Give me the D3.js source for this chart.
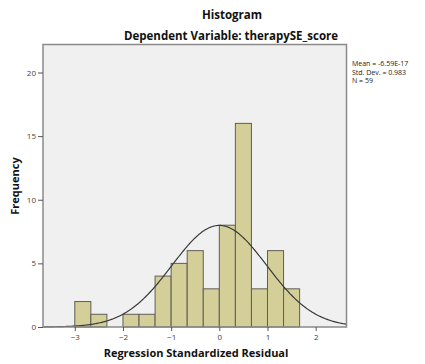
<!DOCTYPE html>
<html>
<head>
<meta charset="utf-8">
<script src="https://cdn.jsdelivr.net/npm/d3@7"></script>
<style>
  html, body { margin: 0; padding: 0; background: #fff; }
  svg { display: block; font-family: "Open Sans", "DejaVu Sans", sans-serif; }
</style>
</head>
<body>
<svg id="chart" width="425" height="364"></svg>
<script>
// Residual histogram: bins of width 1/3 starting at -3
const binStarts = [-3, -8/3, -7/3, -2, -5/3, -4/3, -1, -2/3, -1/3, 0, 1/3, 2/3, 1, 4/3];
const binWidth = 1/3;
const counts = [2, 1, 0, 1, 1, 4, 5, 6, 3, 8, 16, 3, 6, 3];
const xTicks = [-3, -2, -1, 0, 1, 2];
const yTicks = [0, 5, 10, 15, 20];
const stats = { mean: -6.59e-17, sd: 0.983, n: 59 };
const statLines = ["Mean = -6.59E-17", "Std. Dev. = 0.983", "N = 59"];

const svg = d3.select("#chart");
const plot = { left: 43, top: 44.5, right: 346.5, bottom: 327 };

const x = d3.scaleLinear().domain([-3.66, 2.64]).range([plot.left, plot.right]);
const y = d3.scaleLinear().domain([0, 22.2]).range([plot.bottom, plot.top]);

// plot background
svg.append("rect")
  .attr("x", plot.left).attr("y", plot.top)
  .attr("width", plot.right - plot.left).attr("height", plot.bottom - plot.top)
  .attr("fill", "#f0f0f0");

// bars
svg.append("g").selectAll("rect")
  .data(counts.map((c, i) => ({ x0: binStarts[i], c })).filter(d => d.c > 0))
  .join("rect")
  .attr("x", d => x(d.x0))
  .attr("y", d => y(d.c))
  .attr("width", d => x(d.x0 + binWidth) - x(d.x0))
  .attr("height", d => y(0) - y(d.c))
  .attr("fill", "#d4cf98")
  .attr("stroke", "#5f5f55")
  .attr("stroke-width", 1);

// normal curve scaled to counts
const scale = stats.n * binWidth;
const pts = d3.range(x.domain()[0], x.domain()[1] + 0.001, 0.02).map(v => [
  v, scale * Math.exp(-0.5 * ((v - stats.mean) / stats.sd) ** 2) / (stats.sd * Math.sqrt(2 * Math.PI))
]);
svg.append("path")
  .datum(pts)
  .attr("fill", "none")
  .attr("stroke", "#3a3a3a")
  .attr("stroke-width", 1.2)
  .attr("d", d3.line().x(d => x(d[0])).y(d => y(d[1])).curve(d3.curveBasis));

// frame
svg.append("rect")
  .attr("x", plot.left).attr("y", plot.top)
  .attr("width", plot.right - plot.left).attr("height", plot.bottom - plot.top)
  .attr("fill", "none")
  .attr("stroke", "#8a8a8a")
  .attr("stroke-width", 1.5);

// axes
const yAxis = svg.append("g")
  .attr("transform", `translate(${plot.left},0)`)
  .call(d3.axisLeft(y).tickValues(yTicks).tickFormat(d3.format("d")).tickSize(5).tickPadding(2));
const xAxis = svg.append("g")
  .attr("transform", `translate(0,${plot.bottom})`)
  .call(d3.axisBottom(x).tickValues(xTicks).tickFormat(d3.format("d")).tickSize(4).tickPadding(3));
[yAxis, xAxis].forEach(g => {
  g.select(".domain").remove();
  g.selectAll(".tick line").attr("stroke", "#555");
  g.selectAll(".tick text").attr("fill", "#444").attr("font-size", 8)
    .attr("font-family", "'Open Sans', sans-serif");
});

// titles
svg.append("text").attr("x", 232).attr("y", 19)
  .attr("text-anchor", "middle").attr("font-weight", "bold").attr("font-size", 11.5)
  .attr("fill", "#111").text("Histogram");
svg.append("text").attr("x", 231).attr("y", 40)
  .attr("text-anchor", "middle").attr("font-weight", "bold").attr("font-size", 11.5)
  .attr("fill", "#111").text("Dependent Variable: therapySE_score");
svg.append("text").attr("x", 196).attr("y", 357)
  .attr("text-anchor", "middle").attr("font-weight", "bold").attr("font-size", 11)
  .attr("fill", "#111").text("Regression Standardized Residual");
svg.append("text")
  .attr("transform", "translate(19,186) rotate(-90)")
  .attr("text-anchor", "middle").attr("font-weight", "bold").attr("font-size", 11)
  .attr("fill", "#111").text("Frequency");

// summary statistics
svg.append("g").selectAll("text")
  .data(statLines)
  .join("text")
  .attr("x", 352).attr("y", (d, i) => 66 + i * 8.5)
  .attr("font-size", 7).attr("fill", "#222")
  .text(d => d);
</script>
</body>
</html>
